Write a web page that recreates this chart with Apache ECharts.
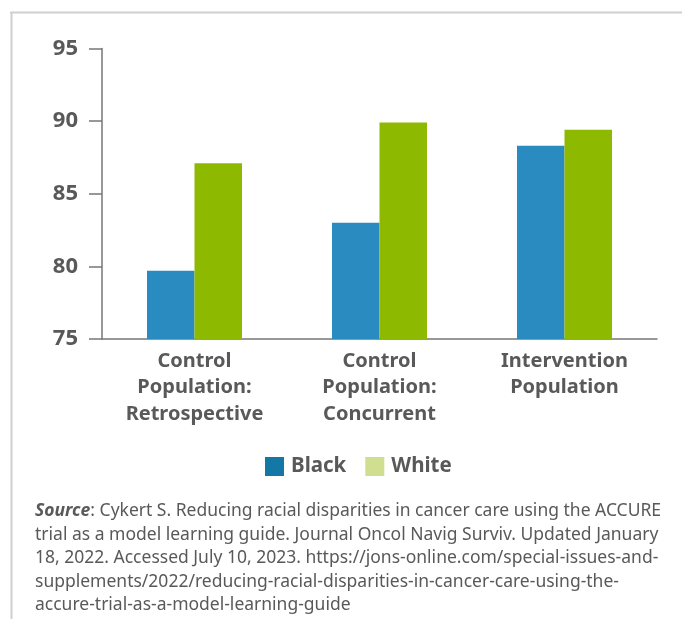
<!DOCTYPE html>
<html>
<head>
<meta charset="utf-8">
<script src="https://cdn.jsdelivr.net/npm/echarts@6/dist/echarts.min.js"></script>
<style>html,body{margin:0;padding:0;background:#fff;}#c{width:682px;height:619px;}</style>
</head>
<body>
<div id="c"></div>
<script>
var categories = ['Control\nPopulation:\nRetrospective', 'Control\nPopulation:\nConcurrent', 'Intervention\nPopulation'];
var blackValues = [79.7, 83.0, 88.3];
var whiteValues = [87.1, 89.9, 89.4];
var yTicks = [75, 80, 85, 90, 95];
var seriesNames = ['Black', 'White'];

var FONT = '"Noto Sans", "Open Sans", sans-serif';
var chart = echarts.init(document.getElementById('c'), null, {renderer: 'canvas'});
var option = {
  animation: false,
  backgroundColor: '#ffffff',
  grid: {left: 102, right: 25, top: 48.5, bottom: 619 - 339, containLabel: false},
  xAxis: {
    type: 'category',
    data: categories,
    axisLine: {lineStyle: {color: '#777', width: 1.5}},
    axisTick: {show: false},
    axisLabel: {
      color: '#595959', fontFamily: FONT, fontWeight: 'bold', fontSize: 20,
      lineHeight: 26.5, margin: 9, interval: 0
    }
  },
  yAxis: {
    type: 'value',
    min: yTicks[0], max: yTicks[yTicks.length - 1], interval: 5,
    splitLine: {show: false},
    axisLine: {show: true, lineStyle: {color: '#777', width: 1.5}},
    axisTick: {show: true, length: 13, lineStyle: {color: '#777', width: 1.5}},
    axisLabel: {color: '#595959', fontFamily: FONT, fontWeight: 'bold', fontSize: 22, margin: 24}
  },
  legend: {
    top: 451, left: 260,
    itemWidth: 19, itemHeight: 19, itemGap: 19,
    icon: 'rect',
    textStyle: {color: '#595959', fontFamily: FONT, fontWeight: 'bold', fontSize: 20.5, padding: [0, 0, 0, 2]},
    data: [
      {name: seriesNames[0], itemStyle: {color: '#1478A6'}},
      {name: seriesNames[1], itemStyle: {color: '#D0DE8F'}}
    ]
  },
  series: [
    {name: seriesNames[0], type: 'bar', data: blackValues, barWidth: 47.5, barGap: '0%',
     itemStyle: {color: '#2A8BC0'}},
    {name: seriesNames[1], type: 'bar', data: whiteValues, barWidth: 47.5, barGap: '0%',
     itemStyle: {color: '#8DBA00'}}
  ],
  graphic: [
    {type: 'line', shape: {x1: 10, y1: 12.5, x2: 682, y2: 12.5}, style: {stroke: '#cfcfcf', lineWidth: 2}},
    {type: 'line', shape: {x1: 11.5, y1: 12, x2: 11.5, y2: 619}, style: {stroke: '#cfcfcf', lineWidth: 2}},
    {
      type: 'text', left: 35, top: 502,
      style: {
        text: '{b|Source}{n|: Cykert S. Reducing racial disparities in cancer care using the ACCURE}\n' +
              '{n|trial as a model learning guide. Journal Oncol Navig Surviv. Updated January}\n' +
              '{n|18, 2022. Accessed July 10, 2023. https://jons-online.com/special-issues-and-}\n' +
              '{n|supplements/2022/reducing-racial-disparities-in-cancer-care-using-the-}\n' +
              '{n|accure-trial-as-a-model-learning-guide}',
        rich: {
          b: {fontFamily: FONT, fontSize: 17.5, fontWeight: 'bold', fontStyle: 'italic', fill: '#595959', lineHeight: 23.6},
          n: {fontFamily: FONT, fontSize: 17.5, fill: '#595959', lineHeight: 23.6}
        }
      }
    }
  ]
};
chart.setOption(option);
</script>
</body>
</html>
